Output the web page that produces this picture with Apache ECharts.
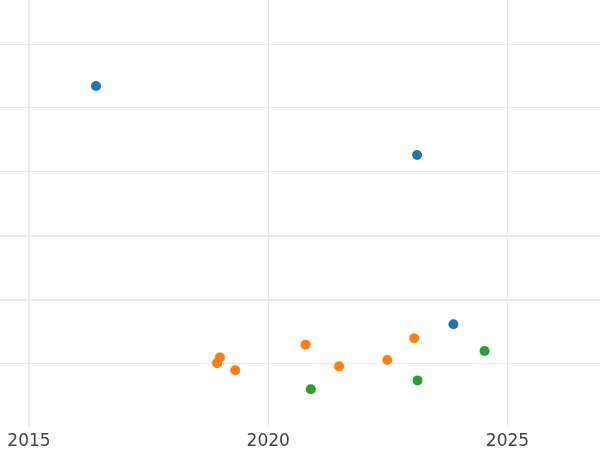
<!DOCTYPE html>
<html>
<head>
<meta charset="utf-8">
<script src="https://cdn.jsdelivr.net/npm/echarts@6/dist/echarts.min.js"></script>
<style>
  html, body { margin: 0; padding: 0; background: #fff; }
  #chart { width: 600px; height: 450px; }
</style>
</head>
<body>
<div id="chart"></div>
<script>
// points as [year, value]
const blueData = [[2016.40, 5.34], [2023.11, 4.26], [2023.87, 1.61]]
const orangeData = [
  [2018.99, 1.09], [2018.93, 1.00], [2019.31, 0.89], [2020.78, 1.29],
  [2021.48, 0.95], [2022.49, 1.05], [2023.05, 1.39]
]
const greenData = [[2020.89, 0.59], [2023.12, 0.73], [2024.52, 1.19]]
const seriesColors = ['#1f77b4', '#ff7f0e', '#2ca02c']
const xTicks = [2015, 2020, 2025]
const yTicks = [1, 2, 3, 4, 5, 6]
// heavier grid lines seen in the picture
const boldYLines = [2, 3]
const boldXLines = [2015]

const chart = echarts.init(document.getElementById('chart'))

const gridColor = '#ececec'

chart.setOption({
  animation: false,
  grid: {
    left: 0,
    right: 0,
    top: 0,
    bottom: 22,
    containLabel: false
  },
  xAxis: {
    type: 'value',
    min: 2014.394,
    max: 2026.933,
    axisLine: { show: false },
    axisTick: { show: false, customValues: xTicks },
    axisLabel: {
      show: true,
      customValues: xTicks,
      margin: 6,
      fontFamily: 'DejaVu Sans',
      fontSize: 17,
      color: '#444',
      formatter: v => String(v)
    },
    splitLine: { show: true, lineStyle: { color: gridColor, width: 1 } }
  },
  yAxis: {
    type: 'value',
    min: 0,
    max: 6.6875,
    axisLine: { show: false },
    axisTick: { show: false, customValues: yTicks },
    axisLabel: { show: false },
    splitLine: { show: true, lineStyle: { color: gridColor, width: 1 } }
  },
  series: [
    {
      type: 'scatter',
      data: blueData,
      symbolSize: 10,
      itemStyle: { color: seriesColors[0], opacity: 1 },
      z: 3,
      markLine: {
        silent: true,
        symbol: 'none',
        label: { show: false },
        lineStyle: { color: gridColor, width: 2, type: 'solid' },
        data: boldYLines.map(v => ({ yAxis: v })).concat(boldXLines.map(v => ({ xAxis: v })))
      }
    },
    {
      type: 'scatter',
      data: orangeData,
      symbolSize: 10,
      itemStyle: { color: seriesColors[1], opacity: 1 },
      z: 3
    },
    {
      type: 'scatter',
      data: greenData,
      symbolSize: 10,
      itemStyle: { color: seriesColors[2], opacity: 1 },
      z: 3
    }
  ]
})
</script>
</body>
</html>
